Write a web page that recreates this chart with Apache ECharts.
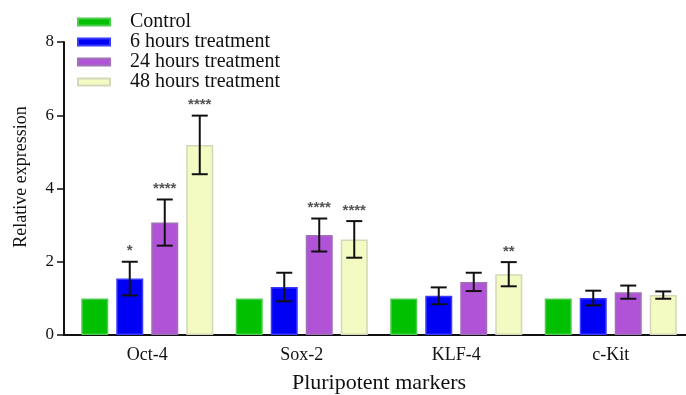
<!DOCTYPE html>
<html>
<head>
<meta charset="utf-8">
<script src="https://cdn.jsdelivr.net/npm/echarts@6/dist/echarts.min.js"></script>
<style>
html,body{margin:0;padding:0;background:#fff;}
#chart{width:686px;height:395px;}
</style>
</head>
<body>
<div id="chart"></div>
<script>
var categories = ['Oct-4', 'Sox-2', 'KLF-4', 'c-Kit'];
var seriesNames = ['Control', '6 hours treatment', '24 hours treatment', '48 hours treatment'];
var control = [1, 1, 1, 1];
var h6 = [1.54, 1.31, 1.07, 1.01];
var h24 = [3.07, 2.73, 1.45, 1.17];
var h48 = [5.19, 2.61, 1.66, 1.09];
var errControl = [0, 0, 0, 0];
var err6 = [0.46, 0.39, 0.23, 0.20];
var err24 = [0.63, 0.45, 0.25, 0.18];
var err48 = [0.80, 0.50, 0.33, 0.10];
var sigControl = ['', '', '', ''];
var sig6 = ['*', '', '', ''];
var sig24 = ['****', '****', '', ''];
var sig48 = ['****', '****', '**', ''];
var yTicks = [0, 2, 4, 6, 8];

var colors = ['#00c000', '#0000f5', '#b153d6', '#f3fbc3'];
var borders = ['#4ccc4c', '#3a3aff', '#a070b8', '#d4d8b8'];

var values = [control, h6, h24, h48];
var errs = [errControl, err6, err24, err48];
var sigs = [sigControl, sig6, sig24, sig48];

var BAR_W = 27;
var GAP = 8;
var STEP = BAR_W + GAP;
var GRID_LEFT = 70;
var Y_OFFSET = 6;
var GRID_BOTTOM = 60;

var chart = echarts.init(document.getElementById('chart'), null, {renderer: 'canvas'});

var series = [];
for (var s = 0; s < 4; s++) {
  series.push({
    name: seriesNames[s],
    type: 'bar',
    data: values[s],
    barWidth: BAR_W,
    barGap: (GAP / BAR_W * 100) + '%',
    itemStyle: {color: colors[s], borderColor: borders[s], borderWidth: 1.5},
    z: 2
  });
}

var errData = [];
for (var s2 = 1; s2 < 4; s2++) {
  for (var c = 0; c < categories.length; c++) {
    errData.push([c, values[s2][c], errs[s2][c], s2, sigs[s2][c]]);
  }
}

series.push({
  type: 'custom',
  name: 'err',
  data: errData,
  z: 5,
  silent: true,
  encode: {x: 0, y: 1},
  renderItem: function (params, api) {
    var ci = api.value(0);
    var v = api.value(1);
    var e = api.value(2);
    var si = api.value(3);
    var sig = errData[params.dataIndex][4];
    var offset = (si - 1.5) * STEP;
    var top = api.coord([ci, v + e]);
    var bot = api.coord([ci, v - e]);
    var x = top[0] + offset;
    var half = 8;
    var st = {stroke: '#111', lineWidth: 2};
    var children = [
      {type: 'line', shape: {x1: x, y1: top[1], x2: x, y2: bot[1]}, style: st},
      {type: 'line', shape: {x1: x - half, y1: top[1], x2: x + half, y2: top[1]}, style: st},
      {type: 'line', shape: {x1: x - half, y1: bot[1], x2: x + half, y2: bot[1]}, style: st}
    ];
    if (sig) {
      children.push({
        type: 'text',
        style: {
          x: x, y: top[1] - 3, text: sig, fill: '#555',
          font: 'bold 15px "Liberation Sans", sans-serif',
          textAlign: 'center', textVerticalAlign: 'bottom'
        }
      });
    }
    return {type: 'group', children: children};
  }
});

var option = {
  animation: false,
  backgroundColor: '#ffffff',
  textStyle: {fontFamily: '"Liberation Serif", "Times New Roman", serif'},
  legend: {
    orient: 'vertical',
    left: 72,
    top: 7,
    padding: 5,
    itemWidth: 32,
    itemHeight: 7,
    itemGap: 0,
    data: seriesNames,
    icon: 'rect',
    textStyle: {
      fontFamily: '"Liberation Serif", serif',
      fontSize: 20,
      color: '#111',
      lineHeight: 20,
      padding: [0, 0, 0, 15]
    }
  },
  grid: {left: GRID_LEFT, right: -2, top: 42, bottom: GRID_BOTTOM, containLabel: false, outerBoundsMode: 'none'},
  graphic: [{
    type: 'line',
    shape: {x1: GRID_LEFT - Y_OFFSET - 1, y1: 395 - GRID_BOTTOM, x2: GRID_LEFT + 1, y2: 395 - GRID_BOTTOM},
    style: {stroke: '#111', lineWidth: 2},
    z: 10
  }],
  xAxis: {
    type: 'category',
    data: categories,
    name: 'Pluripotent markers',
    nameLocation: 'middle',
    nameGap: 37,
    nameTextStyle: {fontFamily: '"Liberation Serif", serif', fontSize: 22, color: '#111'},
    axisLine: {lineStyle: {color: '#111', width: 2}},
    axisTick: {show: false},
    axisLabel: {fontFamily: '"Liberation Serif", serif', fontSize: 18, color: '#111', margin: 11}
  },
  yAxis: {
    type: 'value',
    min: yTicks[0],
    max: yTicks[yTicks.length - 1],
    interval: 2,
    offset: Y_OFFSET,
    name: 'Relative expression',
    nameLocation: 'middle',
    nameGap: 34,
    nameTextStyle: {fontFamily: '"Liberation Serif", serif', fontSize: 18, color: '#111', padding: [0, 0, 0, 23]},
    axisLine: {show: true, lineStyle: {color: '#111', width: 2}},
    axisTick: {show: true, length: 7, lineStyle: {color: '#111', width: 1.5}},
    splitLine: {show: false},
    axisLabel: {fontFamily: '"Liberation Serif", serif', fontSize: 17, color: '#111', margin: 10}
  },
  series: series
};

chart.setOption(option);
</script>
</body>
</html>
